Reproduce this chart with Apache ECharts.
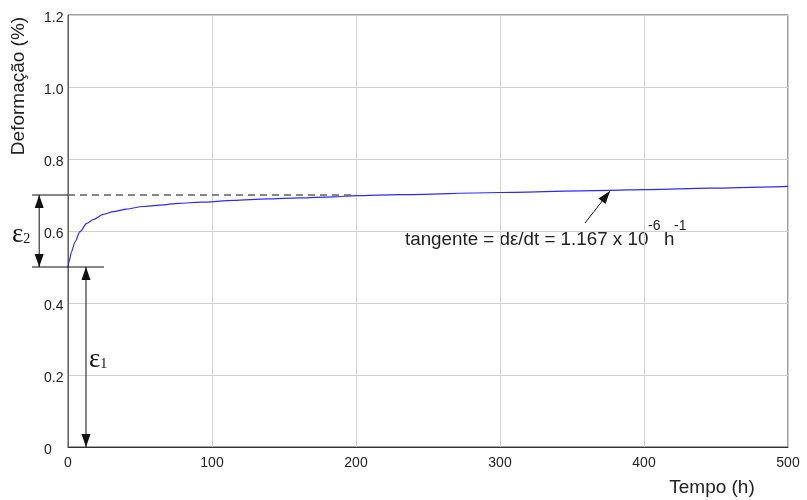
<!DOCTYPE html>
<html>
<head>
  <meta charset="utf-8">
  <title>Deformação x Tempo</title>
</head>
<body style="margin: 0; background: #fff">
  <div id="container" style="width: 807px; height: 500px;"></div>
  <script src="https://cdn.jsdelivr.net/npm/echarts@6/dist/echarts.min.js"></script>
  <script>
    // curva de fluência
    var tempo = [0, 0.7, 2.5, 4.9, 8.3, 13, 17.6, 24.5, 31.5, 40.7, 52, 64, 77, 92, 115, 138, 161, 184, 200, 230, 300, 376, 400, 446, 500];
    var deformacao = [0.5, 0.515, 0.543, 0.570, 0.598, 0.621, 0.632, 0.646, 0.654, 0.661, 0.668, 0.672, 0.677, 0.680, 0.685, 0.689, 0.692, 0.695, 0.698, 0.701, 0.707, 0.713, 0.715, 0.719, 0.724];

    var xTicks = [0, 100, 200, 300, 400, 500];
    var yTicks = [0, 0.2, 0.4, 0.6, 0.8, 1.0, 1.2];

    // cotas (x1, y1, x2, y2, tracejado, seta no início, seta no fim)
    var cotas = [
      [0, 0.7, 200, 0.7, 1, 0, 0],      // linha tracejada em 0.7
      [-25, 0.7, 0, 0.7, 0, 0, 0],
      [-25, 0.5, 25, 0.5, 0, 0, 0],     // linha em 0.5
      [-20, 0.5, -20, 0.7, 0, 1, 1],    // epsilon 2
      [12.5, 0, 12.5, 0.5, 0, 1, 1],    // epsilon 1
      [359, 0.622, 376.4, 0.711, 0, 0, 1] // seta da tangente
    ];

    var chart = echarts.init(document.getElementById('container'), null, { renderer: 'canvas' });

    var font = 'Liberation Sans, Arial, sans-serif';
    var serif = 'Liberation Serif, Times New Roman, serif';

    function arrowHead(tip, from) {
      var dx = tip[0] - from[0], dy = tip[1] - from[1];
      var len = Math.sqrt(dx * dx + dy * dy) || 1;
      var ux = dx / len, uy = dy / len;
      var L = 13, W = 4.5;
      var bx = tip[0] - ux * L, by = tip[1] - uy * L;
      return {
        type: 'polygon',
        shape: { points: [tip, [bx - uy * W, by + ux * W], [bx + uy * W, by - ux * W]] },
        style: { fill: '#111' }
      };
    }

    function renderCota(params, api) {
      var p1 = api.coord([api.value(0), api.value(1)]);
      var p2 = api.coord([api.value(2), api.value(3)]);
      var dashed = api.value(4) === 1;
      var children = [{
        type: 'line',
        shape: { x1: p1[0], y1: p1[1], x2: p2[0], y2: p2[1] },
        style: dashed ? { stroke: '#606060', lineWidth: 1.6, lineDash: [7, 5] } : { stroke: '#111', lineWidth: 1 }
      }];
      if (api.value(5) === 1) children.push(arrowHead(p1, p2));
      if (api.value(6) === 1) children.push(arrowHead(p2, p1));
      return { type: 'group', children: children };
    }

    var option = {
      animation: false,
      grid: { left: 68, top: 15, right: 19, bottom: 53, show: true, borderColor: '#444', borderWidth: 1 },
      xAxis: {
        type: 'value',
        min: xTicks[0], max: xTicks[xTicks.length - 1], interval: 100,
        axisLine: { show: true, lineStyle: { color: '#333' } },
        axisTick: { show: false },
        splitLine: { show: true, lineStyle: { color: '#d0d0d0' } },
        axisLabel: { fontFamily: font, fontSize: 14, color: '#222', margin: 9 }
      },
      yAxis: {
        type: 'value',
        min: yTicks[0], max: yTicks[yTicks.length - 1], interval: 0.2,
        axisLine: { show: true, lineStyle: { color: '#666' } },
        axisTick: { show: false },
        splitLine: { show: true, lineStyle: { color: '#d0d0d0' } },
        axisLabel: {
          color: '#222', margin: 24, align: 'left',
          formatter: function (v) { return '{a|' + (v === 0 ? '0' : v.toFixed(1)) + '}'; },
          rich: { a: { fontFamily: font, fontSize: 14, color: '#222', padding: [7, 0, 0, 0] } }
        }
      },
      series: [
        {
          type: 'line',
          data: tempo.map(function (t, i) { return [t, deformacao[i]]; }),
          showSymbol: false,
          smooth: 0.25,
          smoothMonotone: 'x',
          lineStyle: { color: '#2a2aff', width: 1.2 },
          z: 3
        },
        {
          type: 'custom',
          data: cotas,
          renderItem: renderCota,
          clip: false,
          silent: true,
          z: 4
        }
      ],
      graphic: [
        {
          type: 'text', x: 19, y: 86, rotation: Math.PI / 2,
          style: { text: 'Deformação (%)', font: '19px ' + font, fill: '#222', align: 'center', verticalAlign: 'middle' }
        },
        {
          type: 'text', x: 712, y: 488,
          style: { text: 'Tempo (h)', font: '19px ' + font, fill: '#222', align: 'center', verticalAlign: 'middle' }
        },
        {
          type: 'text', x: 12, y: 235,
          style: {
            text: '{e|ε}{n|2}', verticalAlign: 'middle',
            rich: { e: { fontFamily: serif, fontSize: 27, fill: '#111' }, n: { fontFamily: serif, fontSize: 14, fill: '#111', padding: [9, 0, 0, 0] } }
          }
        },
        {
          type: 'text', x: 89, y: 360,
          style: {
            text: '{e|ε}{n|1}', verticalAlign: 'middle',
            rich: { e: { fontFamily: serif, fontSize: 27, fill: '#111' }, n: { fontFamily: serif, fontSize: 14, fill: '#111', padding: [9, 0, 0, 0] } }
          }
        },
        {
          type: 'text', x: 405, y: 240,
          style: { text: 'tangente = dε/dt = 1.167 x 10', font: '18.8px ' + font, fill: '#222', verticalAlign: 'middle' }
        },
        {
          type: 'text', x: 648, y: 226,
          style: { text: '-6', font: '14px ' + font, fill: '#222', verticalAlign: 'middle' }
        },
        {
          type: 'text', x: 664, y: 240,
          style: { text: 'h', font: '18.8px ' + font, fill: '#222', verticalAlign: 'middle' }
        },
        {
          type: 'text', x: 674, y: 226,
          style: { text: '-1', font: '14px ' + font, fill: '#222', verticalAlign: 'middle' }
        }
      ]
    };

    chart.setOption(option);
  </script>
</body>
</html>
